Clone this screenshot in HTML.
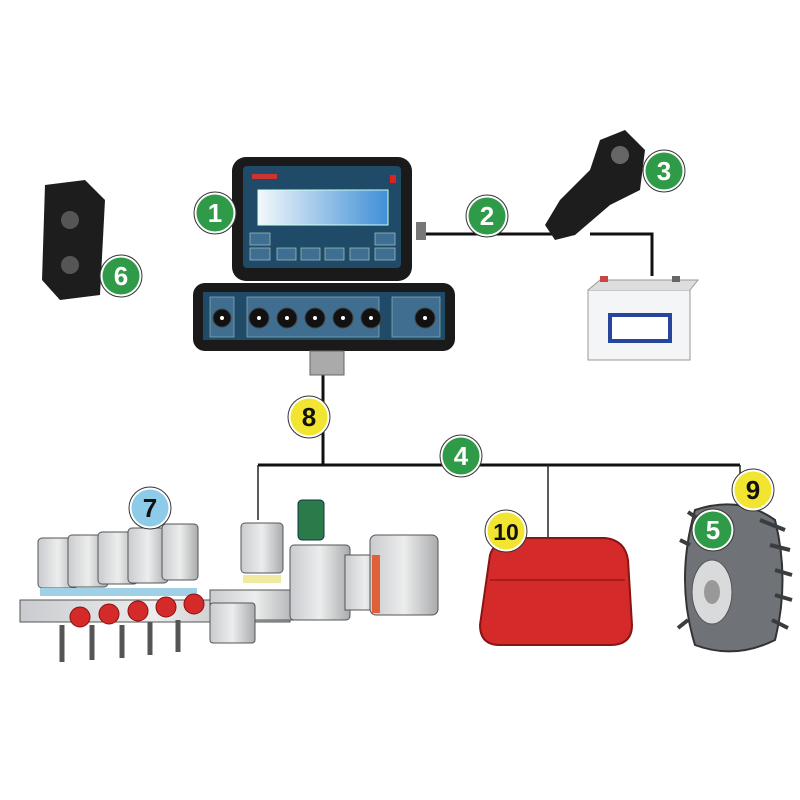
<!DOCTYPE html>
<html><head><meta charset="utf-8"><style>html,body{margin:0;padding:0;background:#fff}svg{display:block}</style></head>
<body>
<svg width="800" height="800" viewBox="0 0 800 800" xmlns="http://www.w3.org/2000/svg" font-family="Liberation Sans, sans-serif">
<defs>
<linearGradient id="scr" x1="0" x2="1"><stop offset="0" stop-color="#f4f8fc"/><stop offset="1" stop-color="#3f8fd6"/></linearGradient>
<linearGradient id="gr" x1="0" x2="1"><stop offset="0" stop-color="#c9cbcf"/><stop offset=".5" stop-color="#eceded"/><stop offset="1" stop-color="#a9abae"/></linearGradient>
</defs>
<g stroke="#111" stroke-width="3" fill="none">
<path d="M420 234 H560"/>
<path d="M590 234 H652 V276"/>
<path d="M323 375 V465"/>
<path d="M258 465 H740"/>
</g>
<g stroke="#222" stroke-width="1.5" fill="none">
<path d="M258 465 V520"/><path d="M548 465 V540"/><path d="M740 465 V505"/>
</g>
<rect x="232" y="157" width="180" height="124" rx="14" fill="#1a1a1a"/>
<rect x="243" y="166" width="158" height="102" rx="4" fill="#1f4a68"/>
<rect x="258" y="190" width="130" height="35" fill="url(#scr)" stroke="#cfe" stroke-width="1"/>
<rect x="252" y="174" width="25" height="5" fill="#c33"/>
<rect x="390" y="175" width="6" height="8" fill="#d22"/>
<g fill="#3e6f92" stroke="#9bb" stroke-width=".8">
<rect x="250" y="233" width="20" height="12"/><rect x="250" y="248" width="20" height="12"/>
<rect x="277" y="248" width="19" height="12"/><rect x="301" y="248" width="19" height="12"/>
<rect x="325" y="248" width="19" height="12"/><rect x="350" y="248" width="19" height="12"/>
<rect x="375" y="233" width="20" height="12"/><rect x="375" y="248" width="20" height="12"/>
</g>
<rect x="416" y="222" width="10" height="18" fill="#777"/>
<rect x="193" y="283" width="262" height="68" rx="12" fill="#1a1a1a"/>
<rect x="203" y="292" width="242" height="48" fill="#1f4a68"/>
<g fill="#3f6e90" stroke="#8aa" stroke-width=".8">
<rect x="210" y="297" width="24" height="40"/>
<rect x="247" y="297" width="132" height="40"/>
<rect x="392" y="297" width="48" height="40"/>
</g>
<g fill="#111" stroke="#444">
<circle cx="222" cy="318" r="9"/><circle cx="259" cy="318" r="10"/><circle cx="287" cy="318" r="10"/>
<circle cx="315" cy="318" r="10"/><circle cx="343" cy="318" r="10"/><circle cx="371" cy="318" r="10"/>
<circle cx="425" cy="318" r="10"/>
</g>
<g fill="#fff"><circle cx="222" cy="318" r="2"/><circle cx="259" cy="318" r="2"/><circle cx="287" cy="318" r="2"/><circle cx="315" cy="318" r="2"/><circle cx="343" cy="318" r="2"/><circle cx="371" cy="318" r="2"/><circle cx="425" cy="318" r="2"/></g>
<rect x="310" y="351" width="34" height="24" fill="#aaa" stroke="#666"/>
<path d="M45 185 L85 180 L105 200 L100 295 L60 300 L42 280 Z" fill="#1d1d1d"/>
<circle cx="70" cy="220" r="9" fill="#555"/><circle cx="70" cy="265" r="9" fill="#555"/>
<path d="M545 225 L560 200 L590 170 L600 140 L625 130 L645 150 L640 190 L610 205 L575 235 L555 240 Z" fill="#1d1d1d"/>
<circle cx="620" cy="155" r="9" fill="#666"/>
<rect x="588" y="290" width="102" height="70" fill="#f4f5f6" stroke="#999"/>
<path d="M588 290 L600 280 H698 L690 290" fill="#ddd" stroke="#999"/>
<rect x="610" y="315" width="60" height="26" fill="#fff" stroke="#27459a" stroke-width="4"/>
<rect x="600" y="276" width="8" height="6" fill="#c44"/><rect x="672" y="276" width="8" height="6" fill="#666"/>
<path d="M490 555 Q495 538 520 538 H605 Q625 540 628 560 L632 625 Q632 645 610 645 H500 Q480 645 480 625 Z" fill="#d42a2a" stroke="#8a1414" stroke-width="2"/>
<path d="M490 580 H625" stroke="#a81c1c" stroke-width="2"/>
<path d="M695 510 Q740 495 775 520 Q790 580 775 640 Q735 660 695 645 Q675 580 695 510 Z" fill="#6f7377" stroke="#333" stroke-width="2"/>
<g stroke="#3a3d40" stroke-width="4"><path d="M760 520 L785 530M770 545 L790 550M775 570 L792 575M775 595 L792 600M772 620 L788 628M700 520 L688 512M690 545 L680 540M688 620 L678 628"/></g>
<ellipse cx="712" cy="592" rx="20" ry="32" fill="#d8dadc" stroke="#555"/>
<ellipse cx="712" cy="592" rx="8" ry="12" fill="#999"/>
<rect x="20" y="600" width="270" height="22" fill="url(#gr)" stroke="#555"/>
<rect x="210" y="590" width="90" height="30" fill="url(#gr)" stroke="#555"/>
<g fill="url(#gr)" stroke="#555">
<rect x="38" y="538" width="40" height="50" rx="4"/><rect x="68" y="535" width="40" height="52" rx="4"/>
<rect x="98" y="532" width="40" height="52" rx="4"/><rect x="128" y="528" width="40" height="55" rx="4"/>
<rect x="162" y="524" width="36" height="56" rx="4"/>
<rect x="241" y="523" width="42" height="50" rx="4"/>
<rect x="290" y="545" width="60" height="75" rx="4"/>
<rect x="345" y="555" width="40" height="55"/>
<rect x="370" y="535" width="68" height="80" rx="6"/>
<rect x="210" y="603" width="45" height="40" rx="3"/>
</g>
<rect x="298" y="500" width="26" height="40" rx="4" fill="#2a7a4a" stroke="#134"/>
<rect x="372" y="555" width="8" height="58" fill="#e0603a"/>
<g fill="#9fd0e6"><rect x="40" y="588" width="38" height="8"/><rect x="70" y="588" width="38" height="8"/><rect x="100" y="588" width="38" height="8"/><rect x="130" y="588" width="38" height="8"/><rect x="163" y="588" width="34" height="8"/></g>
<rect x="243" y="575" width="38" height="8" fill="#f0eaa0"/>
<g fill="#d52a2a" stroke="#8a1010"><circle cx="80" cy="617" r="10"/><circle cx="109" cy="614" r="10"/><circle cx="138" cy="611" r="10"/><circle cx="166" cy="607" r="10"/><circle cx="194" cy="604" r="10"/></g>
<g stroke="#555" stroke-width="5"><path d="M62 625V662M92 625V660M122 625V658M150 622V655M178 620V652"/></g>
<g font-weight="bold" font-size="26" text-anchor="middle">
<g fill="#fff" stroke="#333" stroke-width="1">
<circle cx="215" cy="213" r="21"/><circle cx="487" cy="216" r="21"/><circle cx="664" cy="171" r="21"/><circle cx="121" cy="276" r="21"/><circle cx="461" cy="456" r="21"/><circle cx="713" cy="530" r="21"/><circle cx="309" cy="417" r="21"/><circle cx="506" cy="531" r="21"/><circle cx="753" cy="490" r="21"/><circle cx="150" cy="508" r="21"/>
</g>
<g>
<circle cx="215" cy="213" r="18.5" fill="#2f9a48"/><circle cx="487" cy="216" r="18.5" fill="#2f9a48"/>
<circle cx="664" cy="171" r="18.5" fill="#2f9a48"/><circle cx="121" cy="276" r="18.5" fill="#2f9a48"/>
<circle cx="461" cy="456" r="18.5" fill="#2f9a48"/><circle cx="713" cy="530" r="18.5" fill="#2f9a48"/>
<circle cx="309" cy="417" r="18.5" fill="#f2e531"/><circle cx="506" cy="531" r="18.5" fill="#f2e531"/>
<circle cx="753" cy="490" r="18.5" fill="#f2e531"/><circle cx="150" cy="508" r="18.5" fill="#8ecbe8"/>
</g>
<g fill="#fff"><text x="215" y="222">1</text><text x="487" y="225">2</text><text x="664" y="180">3</text><text x="121" y="285">6</text><text x="461" y="465">4</text><text x="713" y="539">5</text></g>
<g fill="#111"><text x="309" y="426">8</text><text x="506" y="540" font-size="23">10</text><text x="753" y="499">9</text><text x="150" y="517">7</text></g>
</g>
</svg>
</body></html>
